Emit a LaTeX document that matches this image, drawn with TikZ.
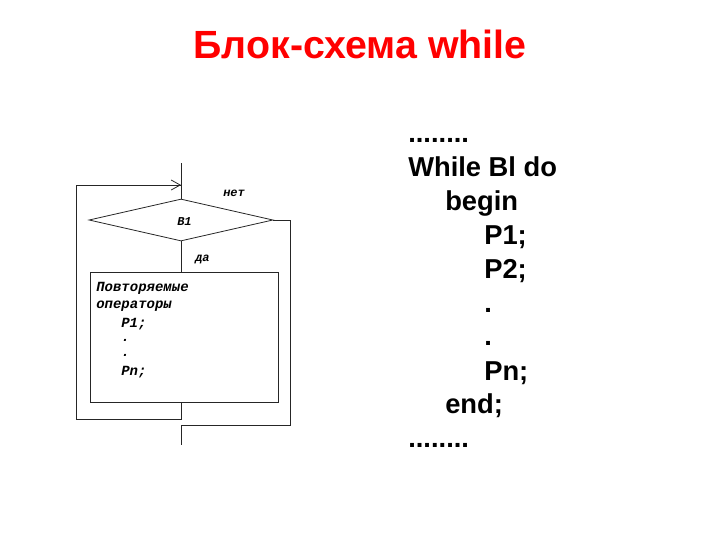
\documentclass[tikz,border=0pt]{standalone}
\usepackage{fontspec}
\setmainfont{Liberation Sans}
\newfontfamily\flowfont{Liberation Mono}
\usetikzlibrary{shapes.geometric,arrows.meta}
\begin{document}
\begin{tikzpicture}[x=0.75pt,y=-0.75pt,
  line/.style={draw=black!85,line width=0.6pt},
  cond/.style={diamond,line,inner sep=0pt,minimum width=184*0.75pt,minimum height=42*0.75pt},
  blockbox/.style={rectangle,line,inner sep=0pt,minimum width=188*0.75pt,minimum height=130*0.75pt},
  lbl/.style={inner sep=0pt,anchor=base west,font=\flowfont\bfseries\itshape\fontsize{9}{10}\selectfont},
  boxtxt/.style={inner sep=0pt,anchor=base west,font=\flowfont\bfseries\itshape\fontsize{10.5}{12}\selectfont},
  code/.style={inner sep=0pt,anchor=base west,font=\bfseries\fontsize{20.5}{24}\selectfont}]
\useasboundingbox (0,0) rectangle (720,540);
% title
\node[inner sep=0pt,anchor=base,text=red,font=\bfseries\fontsize{29.5}{33}\selectfont] (title) at (360,58) {Блок-схема while};
% flowchart
\node[cond] (d) at (181,220) {};
\node[blockbox] (box) at (184,337) {};
\coordinate (top) at (181,163);
\coordinate (arr) at (181,185);
\coordinate (lt) at (76,185);
\coordinate (lb) at (76,419);
\coordinate (jb) at (181,419);
\coordinate (rt) at (290,220);
\coordinate (rb) at (290,425);
\coordinate (ej) at (181,425);
\coordinate (out) at (181,445);
\draw[line] (top) -- (d.north);
\draw[line] (d.south) -- (d.south |- box.north);
\draw[line] (jb |- box.south) -- (jb) -- (lb) -- (lt) -- (arr);
\draw[line,-{Straight Barb[length=6.75pt,width=7.5pt]}] (lt) -- (arr);
\draw[line] (d.east) -- (rt) -- (rb) -- (ej) -- (out);
\node[lbl] (no) at (223,196) {нет};
\node[lbl] (cnd) at (177,225) {B1};
\node[lbl] (yes) at (195,261) {да};
\node[boxtxt] (t1) at (96,291) {Повторяемые};
\node[boxtxt] (t2) at (96,308) {операторы};
\node[boxtxt] (t3) at (121,327) {P1;};
\node[boxtxt] (t4) at (121,341) {.};
\node[boxtxt] (t5) at (121,356) {.};
\node[boxtxt] (t6) at (121,375) {Pn;};
% code
\node[code] (c1) at (408,142) {........};
\node[code] (c2) at (408,176) {While Bl do};
\node[code] (c3) at (445,210) {begin};
\node[code] (c4) at (484,244) {P1;};
\node[code] (c5) at (484,278) {P2;};
\node[code] (c6) at (484,312) {.};
\node[code] (c7) at (484,345) {.};
\node[code] (c8) at (484,380) {Pn;};
\node[code] (c9) at (445,413) {end;};
\node[code] (c10) at (408,447) {........};
\end{tikzpicture}
\end{document}
